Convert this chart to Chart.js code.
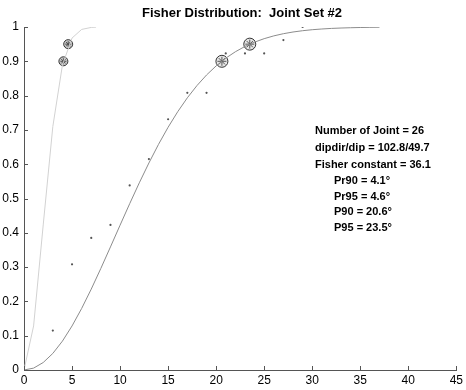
<!DOCTYPE html>
<html>
<head>
<meta charset="utf-8">
<script src="https://cdn.jsdelivr.net/npm/chart.js@4.4.1/dist/chart.umd.min.js"></script>
<style>
  html, body { margin: 0; padding: 0; background: #fff; }
  #wrap { width: 466px; height: 390px; }
</style>
</head>
<body>
<div id="wrap"><canvas id="chart" width="466" height="390"></canvas></div>
<script>
// fitted Fisher curve (k = 36.1), degrees vs cumulative probability
var mainDeg = [0,1,2,3,4,5,6,7,8,9,10,11,12,13,14,15,16,17,18,19,20,21,22,23,24,25,26,27,28,29,30,31,32,33,34,35,36,37];
var mainProb = [0,0.0055,0.0218,0.0483,0.0842,0.1284,0.1794,0.2359,0.2962,0.3588,0.4222,0.4848,0.5456,0.6035,0.6578,0.7077,0.7530,0.7935,0.8291,0.8601,0.8866,0.9091,0.9278,0.9433,0.9559,0.9660,0.9741,0.9805,0.9854,0.9892,0.9921,0.9942,0.9959,0.9970,0.9979,0.9985,0.9990,0.9993];

// curve for the mean direction (light grey)
var meanDeg = [0,1,2,3,4,5,6,7,7.5];
var meanProb = [0,0.1284,0.4229,0.7097,0.8890,0.9678,0.9929,0.9988,0.9996];

// observed cumulative frequency
var obsDeg = [3,5,7,9,11,13,15,17,19,21,23,25,27,29];
var obsProb = [0.115,0.308,0.385,0.423,0.538,0.615,0.731,0.808,0.808,0.923,0.923,0.923,0.962,1.0];

// confidence markers
var prDeg = [4.1,4.6];
var prProb = [0.9,0.95];
var pDeg = [20.6,23.5];
var pProb = [0.9,0.95];

var infoLines = ["Number of Joint = 26", "dipdir/dip = 102.8/49.7", "Fisher constant = 36.1"];
var coneLines = ["Pr90 = 4.1\u00b0", "Pr95 = 4.6\u00b0", "P90 = 20.6\u00b0", "P95 = 23.5\u00b0"];

function pts(xs, ys) {
    var out = [];
    for (var i = 0; i < xs.length; i++) out.push({x: xs[i], y: ys[i]});
    return out;
}

var FONT = "'Liberation Sans', Arial, sans-serif";

var extras = {
    id: 'extras',
    afterDraw: function (chart) {
        var ctx = chart.ctx, a = chart.chartArea;
        var xs = chart.scales.x, ys = chart.scales.y;
        ctx.save();
        // inward tick marks
        ctx.strokeStyle = '#555';
        ctx.lineWidth = 1;
        ctx.beginPath();
        for (var v = 0; v <= 45; v += 5) {
            var px = Math.round(xs.getPixelForValue(v)) + 0.5;
            ctx.moveTo(px, a.bottom);
            ctx.lineTo(px, a.bottom - 4);
        }
        for (var k = 0; k <= 10; k++) {
            var py = Math.round(ys.getPixelForValue(k / 10)) + 0.5;
            ctx.moveTo(a.left, py);
            ctx.lineTo(a.left + 4, py);
        }
        ctx.stroke();

        // title
        ctx.fillStyle = '#000';
        ctx.font = 'bold 13px ' + FONT;
        ctx.textAlign = 'center';
        ctx.textBaseline = 'middle';
        ctx.fillText('Fisher Distribution:  Joint Set #2', 242, 13);

        // annotations
        ctx.font = 'bold 11px ' + FONT;
        ctx.textAlign = 'left';
        for (var i = 0; i < infoLines.length; i++) {
            ctx.fillText(infoLines[i], 315, 131 + i * 17);
        }
        for (var j = 0; j < coneLines.length; j++) {
            ctx.fillText(coneLines[j], 334, 181 + j * 15.6);
        }
        ctx.restore();
    }
};

new Chart(document.getElementById('chart').getContext('2d'), {
    type: 'scatter',
    data: {
        datasets: [
            {data: pts(meanDeg, meanProb), showLine: true, borderColor: '#d2d2d2', borderWidth: 1, pointRadius: 0, tension: 0},
            {data: pts(mainDeg, mainProb), showLine: true, borderColor: '#8c8c8c', borderWidth: 1, pointRadius: 0, tension: 0},
            {data: pts(obsDeg, obsProb), pointRadius: 1.1, pointBackgroundColor: '#555', pointBorderWidth: 0},
            {data: pts(prDeg, prProb), pointStyle: 'circle', pointRadius: 4.5, pointBackgroundColor: 'rgba(130,130,130,0.45)', pointBorderColor: '#333', pointBorderWidth: 1},
            {data: pts(prDeg, prProb), pointStyle: 'star', pointRadius: 3, pointBorderColor: '#222', pointBorderWidth: 1},
            {data: pts(pDeg, pProb), pointStyle: 'circle', pointRadius: 6, pointBackgroundColor: 'rgba(150,150,150,0.25)', pointBorderColor: '#333', pointBorderWidth: 1},
            {data: pts(pDeg, pProb), pointStyle: 'star', pointRadius: 4.5, pointBorderColor: '#444', pointBorderWidth: 1}
        ]
    },
    options: {
        responsive: false,
        animation: false,
        events: [],
        layout: {padding: {top: 27, right: 6, left: 0, bottom: 0}},
        plugins: {legend: {display: false}, tooltip: {enabled: false}, title: {display: false}},
        scales: {
            x: {
                type: 'linear', min: 0, max: 45,
                ticks: {stepSize: 5, padding: 3, color: '#000', font: {family: FONT, size: 12}, maxRotation: 0},
                grid: {display: true, drawOnChartArea: false, drawTicks: false},
                border: {display: true, color: '#555'},
                afterFit: function (s) { s.height = 20; }
            },
            y: {
                type: 'linear', min: 0, max: 1,
                ticks: {stepSize: 0.1, padding: 5, color: '#000', font: {family: FONT, size: 12},
                    callback: function (v) { return String(Math.round(v * 10) / 10); }},
                grid: {display: true, drawOnChartArea: false, drawTicks: false},
                border: {display: true, color: '#555'},
                afterFit: function (s) { s.width = 24; }
            }
        }
    },
    plugins: [extras]
});
</script>
</body>
</html>
